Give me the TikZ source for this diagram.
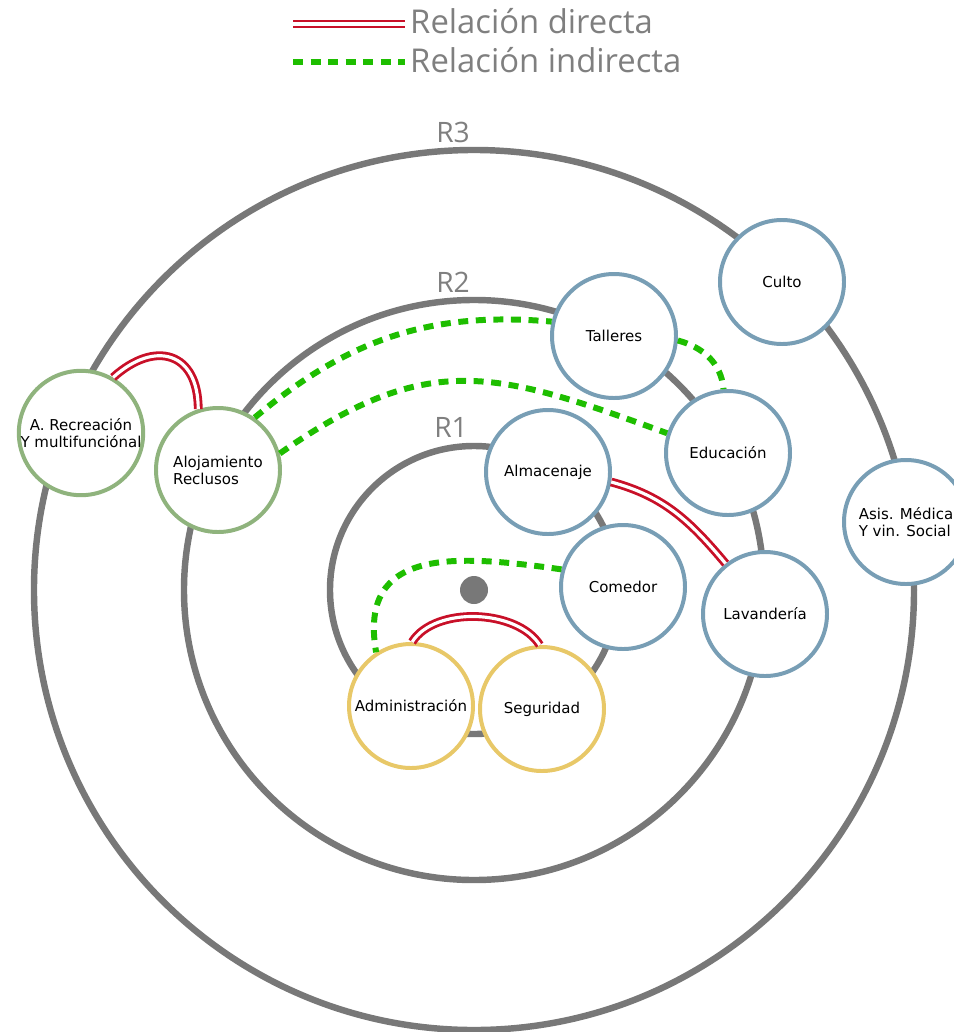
\documentclass[tikz,border=0pt]{standalone}
\usepackage{fontspec}
\setmainfont{DejaVu Sans}
\newfontfamily\legendfont{Open Sans}
\definecolor{ringgray}{HTML}{787878}
\definecolor{labelgray}{HTML}{7F7F7F}
\definecolor{roomgreen}{RGB}{143,179,125}
\definecolor{roomblue}{RGB}{120,158,181}
\definecolor{roomyellow}{RGB}{232,200,104}
\definecolor{linkred}{RGB}{200,16,40}
\definecolor{linkgreen}{RGB}{30,190,0}
\tikzset{
  ring/.style={draw=ringgray, line width=5.5pt},
  room/.style={circle, fill=white, line width=3.4pt, minimum size=3.72cm, inner sep=0pt,
    font=\fontsize{12.8}{14.5}\selectfont, align=left},
  greenroom/.style={room, draw=roomgreen},
  blueroom/.style={room, draw=roomblue},
  yellowroom/.style={room, draw=roomyellow},
  directa/.style={draw=linkred, line width=2.4pt, double=white, double distance=2.7pt},
  indirecta/.style={draw=linkgreen, line width=5.1pt, dash pattern=on 8.5pt off 6.5pt},
  ringlabel/.style={text=labelgray, inner sep=0pt, anchor=base, font=\legendfont\fontsize{24}{24}\selectfont},
  legendtext/.style={text=labelgray, inner sep=0pt, anchor=base west, font=\legendfont\fontsize{28}{30}\selectfont},
}
\begin{document}
\begin{tikzpicture}[x=0.03cm, y=-0.03cm]
    \clip (0,0) rectangle (954,1032);
    \coordinate (dirA) at (293,24);
    \coordinate (dirB) at (405,24);
    \coordinate (indA) at (293,62);
    \coordinate (indB) at (405,62);
    \draw[directa] (dirA) -- (dirB);
    \draw[indirecta] (indA) -- (indB);
    \node[legendtext] (dirtext) at (410,33) {Relación directa};
    \node[legendtext] (indtext) at (410,72) {Relación indirecta};
    \coordinate (centro) at (474,590);
    \draw[ring] (centro) circle[radius=13.2cm];
    \draw[ring] (centro) circle[radius=8.7cm];
    \draw[ring] (centro) circle[radius=4.32cm];
    \fill[ringgray] (centro) circle[radius=0.42cm];
    \node[ringlabel] (rtres) at (453,142) {R3};
    \node[ringlabel] (rdos) at (453,292) {R2};
    \node[ringlabel] (runo) at (451,437) {R1};
    \node[greenroom, align=center] (recreacion) at (81,433) {A. Recreación\\Y multifunciónal};
    \node[greenroom] (alojamiento) at (218,470) {Alojamiento\\Reclusos};
    \node[blueroom] (talleres) at (614,336) {Talleres};
    \node[blueroom] (culto) at (782,282) {Culto};
    \node[blueroom] (educacion) at (728,453) {Educación};
    \node[blueroom] (almacenaje) at (548,472) {Almacenaje};
    \node[blueroom] (comedor) at (623,587) {Comedor};
    \node[blueroom] (lavanderia) at (765,614) {Lavandería};
    \node[blueroom] (medica) at (906,522) {Asis. Médica\\Y vin. Social};
    \node[yellowroom] (administracion) at (411,706) {Administración};
    \node[yellowroom] (seguridad) at (542,709) {Seguridad};
    \draw[directa] (recreacion.60) to[out=42, in=90, looseness=1.6] (alojamiento.108);
    \draw[directa] (administracion.89) to[out=58, in=122, looseness=0.85] (seguridad.92);
    \draw[directa] (almacenaje.-9) to[out=-15, in=130] (lavanderia.128);
    \draw[indirecta] (alojamiento.55) to[out=40, in=175] (talleres.167);
    \draw[indirecta] (alojamiento.15) to[out=35, in=160, looseness=1.2] (educacion.162);
    \draw[indirecta] (talleres.-4) to[out=-15, in=95] (educacion.94);
    \draw[indirecta] (comedor.164) to[out=172, in=100, looseness=1.35] (administracion.123);
\end{tikzpicture}
\end{document}
